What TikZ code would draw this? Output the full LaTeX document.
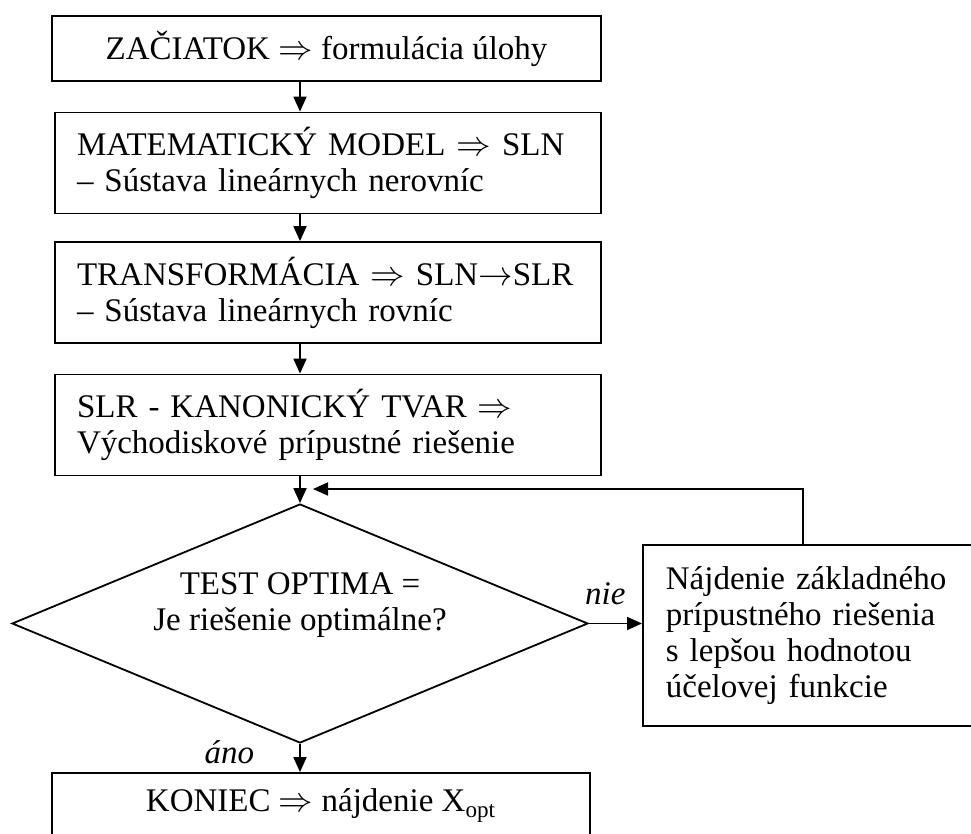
\documentclass[tikz,border=0pt]{standalone}
\usepackage{fontspec}
\setmainfont{Liberation Serif}
\usetikzlibrary{shapes.geometric,arrows.meta}

\begin{document}
\begin{tikzpicture}[x=0.5pt, y=-0.5pt,
  every node/.style={font=\fontsize{16.5}{18}\selectfont},
  box/.style={draw, line width=0.9pt, inner sep=0pt, minimum height=32.5pt},
  stepbox/.style={draw, line width=0.9pt, text width=251pt, align=left, inner xsep=11pt, inner ysep=0pt, minimum height=50.5pt},
  arr/.style={line width=0.9pt, -{Triangle[length=7.5pt,width=6.5pt]}},
  tag/.style={inner sep=0pt, font=\fontsize{16.5}{18}\selectfont\itshape}]
  \useasboundingbox (0,0) rectangle (971,834);

  % steps of the method
  \node[box, minimum width=274.5pt] (start) at (326.5,48.5) {ZAČIATOK $\Rightarrow$ formulácia úlohy};
  \node[stepbox] (model) at (328,163) {MATEMATICKÝ MODEL $\Rightarrow$ SLN\\– Sústava lineárnych nerovníc};
  \node[stepbox] (transf) at (328,292.5) {TRANSFORMÁCIA $\Rightarrow$ SLN$\rightarrow$SLR\\– Sústava lineárnych rovníc};
  \node[stepbox] (kanon) at (328,425) {SLR - KANONICKÝ TVAR $\Rightarrow$\\Východiskové prípustné riešenie};
  \node[draw, diamond, line width=0.9pt, inner sep=0pt, minimum width=288pt, minimum height=119.5pt] (test) at (300,623.5) {};
  \node[align=center] (testtxt) at (300,605) {TEST OPTIMA =\\Je riešenie optimálne?};
  \node[draw, line width=0.9pt, anchor=north west, text width=150pt, align=left, inner xsep=11.5pt, inner ysep=0pt, minimum height=90.5pt] (find) at (642,544) {Nájdenie základného\\prípustného riešenia\\s lepšou hodnotou\\účelovej funkcie};
  \node[box, minimum width=269pt] (stop) at (321,805.5) {KONIEC $\Rightarrow$ nájdenie X\textsubscript{opt}};

  \coordinate (axis) at (300,0);
  \coordinate (back) at (803,489);
  \coordinate (join) at (313,489);

  % connectors
  \draw[arr] (start.south -| axis) -- (model.north -| axis);
  \draw[arr] (model.south -| axis) -- (transf.north -| axis);
  \draw[arr] (transf.south -| axis) -- (kanon.north -| axis);
  \draw[arr] (kanon.south -| axis) -- (test.north);
  \draw[arr] (find.north -| back) -- (back) -- (join);
  \draw[arr] (test.east) -- (find.west |- test.east) node[tag, anchor=base, pos=0.31, yshift=9.5pt] {nie};
  \draw[arr] (test.south) -- (stop.north -| test.south) node[tag, anchor=base east, pos=0.68, xshift=-22.5pt] {áno};
\end{tikzpicture}
\end{document}
